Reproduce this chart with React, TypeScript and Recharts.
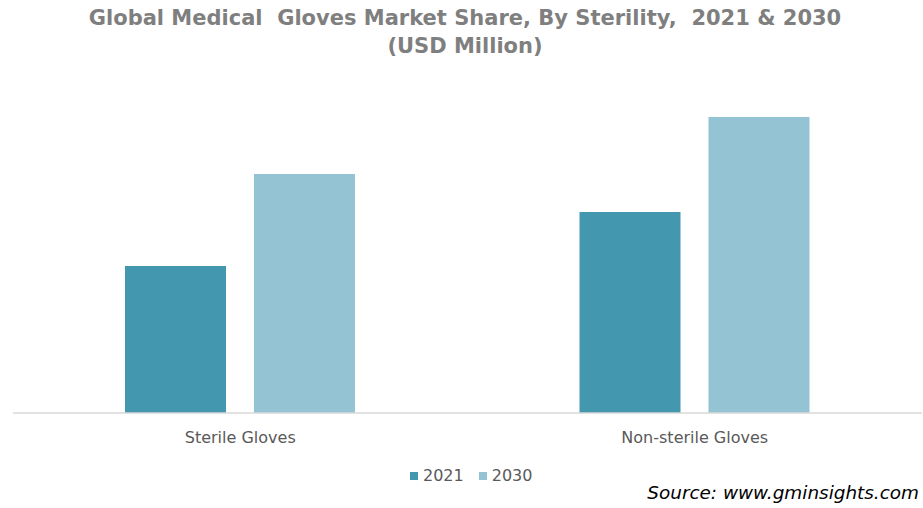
import React from 'react'
import { BarChart, Bar, XAxis, YAxis } from 'recharts'

const categories = ['Sterile Gloves', 'Non-sterile Gloves']
const values2021 = [4900, 6700]
const values2030 = [7970, 9870]

const C2021 = '#4397AF'
const C2030 = '#94C3D4'

const data = categories.map((name, i) => ({
  name,
  y2021: values2021[i],
  y2030: values2030[i],
}))

const font = 'Tahoma, "DejaVu Sans", sans-serif'

export default function App() {
  return (
    <div style={{ position: 'absolute', left: 0, top: 0, width: 923, height: 508, background: '#fff', fontFamily: font }}>
      <div
        style={{
          position: 'absolute', left: 0, top: 4, width: 930, textAlign: 'center',
          fontWeight: 'bold', fontSize: 21, lineHeight: '28px', color: '#7f7f7f',
        }}
      >
        Global Medical&nbsp; Gloves Market Share, By Sterility,&nbsp; 2021 &amp; 2030
        <br />
        (USD Million)
      </div>
      <BarChart
        width={923}
        height={508}
        data={data}
        margin={{ top: 113, right: 1, left: 13, bottom: 65 }}
        barGap={28}
        barSize={101}
      >
        <XAxis
          dataKey="name"
          height={30}
          tickLine={false}
          axisLine={{ stroke: '#d9d9d9', strokeWidth: 1.5 }}
          tickMargin={13}
          tick={{ fontSize: 16, fill: '#595959', fontFamily: font }}
        />
        <YAxis hide domain={[0, 10000]} />
        <Bar dataKey="y2021" fill={C2021} isAnimationActive={false} />
        <Bar dataKey="y2030" fill={C2030} isAnimationActive={false} />
      </BarChart>
      <div style={{ position: 'absolute', left: 410, top: 466, fontSize: 16, color: '#595959', display: 'flex', alignItems: 'center' }}>
        <span style={{ display: 'inline-block', width: 8, height: 8, background: C2021, marginRight: 5 }} />
        <span style={{ marginRight: 15 }}>2021</span>
        <span style={{ display: 'inline-block', width: 8, height: 8, background: C2030, marginRight: 5 }} />
        <span>2030</span>
      </div>
      <div
        style={{
          position: 'absolute', right: 4, top: 482, fontSize: 18.4, fontStyle: 'italic',
          color: '#000', fontFamily: 'Verdana, "DejaVu Sans", sans-serif',
        }}
      >
        Source: www.gminsights.com
      </div>
    </div>
  )
}
